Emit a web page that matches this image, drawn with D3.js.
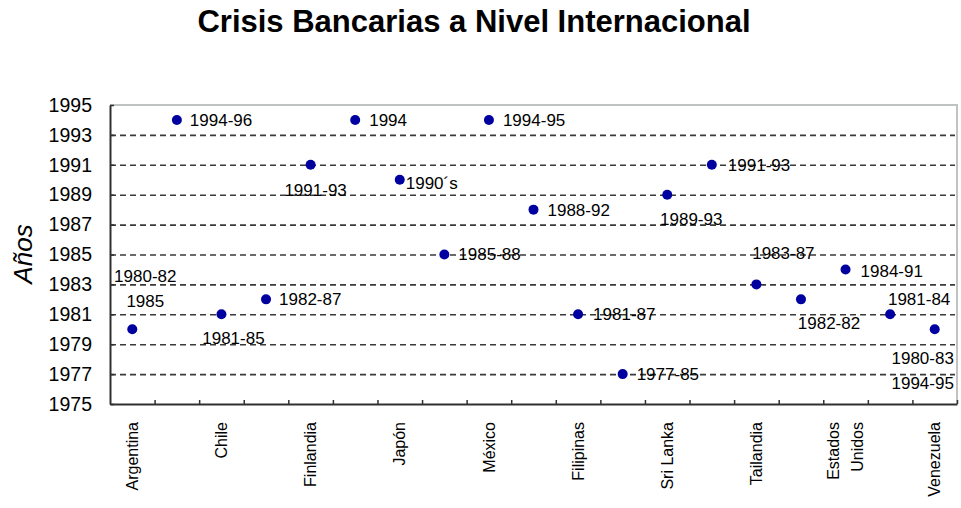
<html>
<head>
<meta charset="utf-8">
<title>Crisis Bancarias</title>
<style>
  body { margin: 0; background: #fff; }
  svg text { font-family: "Liberation Sans", Arial, sans-serif; fill: #000; }
</style>
</head>
<body>
<div id="chart"></div>
<script src="https://cdnjs.cloudflare.com/ajax/libs/d3/7.8.5/d3.min.js"></script>
<script>
// data
var countries = ["Argentina", "", "Chile", "", "Finlandia", "", "Japón", "", "México", "",
                 "Filipinas", "", "Sri Lanka", "", "Tailandia", "", "Estados Unidos", "", "Venezuela"];

var startYear = [1980, 1994, 1981, 1982, 1991, 1994, 1990, 1985, 1994, 1988,
                 1981, 1977, 1989, 1991, 1983, 1982, 1984, 1981, 1980];

var crisisLabels = [["1980-82", "1985"], ["1994-96"], ["1981-85"], ["1982-87"], ["1991-93"],
                    ["1994"], ["1990´s"], ["1985-88"], ["1994-95"], ["1988-92"],
                    ["1981-87"], ["1977-85"], ["1989-93"], ["1991-93"], ["1983-87"],
                    ["1982-82"], ["1984-91"], ["1981-84"], ["1980-83", "1994-95"]];

var yearTicks = d3.range(1975, 1996, 2);
var gridYears = d3.range(1977, 1994, 2);

// label placement (layout only): anchor, dx, dy from the point
var labelPlace = [
  ["middle", 13, -53], ["start", 13, 0], ["middle", 12, 24], ["start", 13, 0], ["middle", 5, 25],
  ["start", 14, 0], ["start", 6, 3], ["start", 14, 0], ["start", 14, 0], ["start", 14, 0],
  ["start", 15, 0], ["start", 14, 0], ["middle", 24, 24], ["start", 16, 0], ["middle", 27, -31],
  ["middle", 28, 24], ["start", 15, 2], ["middle", 29, -15], ["middle", -12, 29]
];

var width = 961, height = 508;
var plotL = 110, plotR = 957, plotT = 105, plotB = 404;

var svg = d3.select("#chart").append("svg")
    .attr("width", width)
    .attr("height", height);

var x = d3.scaleBand()
    .domain(d3.range(countries.length))
    .range([plotL, plotR]);

var xEdge = d3.scaleLinear()
    .domain([0, countries.length])
    .range([plotL, plotR]);

var y = d3.scaleLinear()
    .domain([1975, 1995])
    .range([plotB, plotT]);

// title
svg.append("text")
    .attr("x", 474)
    .attr("y", 32)
    .attr("text-anchor", "middle")
    .style("font-size", "31px")
    .style("font-weight", "bold")
    .text("Crisis Bancarias a Nivel Internacional");

// plot border (top / right, gray)
svg.append("path")
    .attr("d", "M" + plotL + "," + plotT + "H" + plotR + "V" + plotB)
    .attr("fill", "none")
    .attr("stroke", "#c0c4c0")
    .attr("stroke-width", 2);

// dashed gridlines
var grid = svg.append("g")
    .attr("transform", "translate(" + plotL + ",0)")
    .call(d3.axisLeft(y).tickValues(gridYears).tickSize(-(plotR - plotL - 2)).tickFormat(""));
grid.select(".domain").remove();
grid.selectAll("line")
    .attr("stroke", "#3a3a3a")
    .attr("stroke-width", 1.6)
    .attr("stroke-dasharray", "6,4");

// y axis
var yAxis = svg.append("g")
    .attr("transform", "translate(" + plotL + ",0)")
    .call(d3.axisLeft(y).tickValues(yearTicks).tickFormat(d3.format("d"))
          .tickSizeInner(-4).tickSizeOuter(0).tickPadding(18));
yAxis.select(".domain").attr("stroke", "#303030").attr("stroke-width", 2);
yAxis.selectAll("line").attr("stroke", "#303030").attr("stroke-width", 1.5);
yAxis.selectAll("text")
    .style("font-size", "19.5px")
    .style("font-family", "'Liberation Sans', Arial, sans-serif");

// x axis: tick marks at category edges
var xAxis = svg.append("g")
    .attr("transform", "translate(0," + plotB + ")")
    .call(d3.axisBottom(xEdge).tickValues(d3.range(1, countries.length + 1))
          .tickSizeInner(-4).tickSizeOuter(0).tickFormat(""));
xAxis.select(".domain").attr("stroke", "#303030").attr("stroke-width", 2);
xAxis.selectAll("line").attr("stroke", "#303030").attr("stroke-width", 1.5);

// category labels, rotated
var catLabels = svg.append("g").selectAll("text")
    .data(countries)
    .enter().append("text")
    .attr("transform", function(d, i) {
      return "translate(" + (x(i) + x.bandwidth() / 2) + "," + (plotB + 18) + ") rotate(-90)";
    })
    .attr("text-anchor", "end")
    .style("font-size", "16px");

catLabels.each(function(d) {
  var lines = d.length > 10 ? d.split(" ") : [d];
  var sel = d3.select(this);
  lines.forEach(function(t, k) {
    sel.append("tspan")
      .attr("x", 0)
      .attr("dy", k === 0 ? (0.35 * 16 - (lines.length - 1) * 12) + "px" : "24px")
      .text(t);
  });
});

// y axis title
svg.append("text")
    .attr("transform", "translate(32,254) rotate(-90)")
    .attr("text-anchor", "middle")
    .style("font-size", "26px")
    .style("font-style", "italic")
    .text("Años");

// points
svg.append("g").selectAll("circle")
    .data(startYear)
    .enter().append("circle")
    .attr("cx", function(d, i) { return x(i) + x.bandwidth() / 2; })
    .attr("cy", function(d) { return y(d); })
    .attr("r", 5)
    .attr("fill", "#0000a0");

// data labels
var dl = svg.append("g").selectAll("text")
    .data(crisisLabels)
    .enter().append("text")
    .attr("text-anchor", function(d, i) { return labelPlace[i][0]; })
    .style("font-size", "17px");

dl.each(function(d, i) {
  var cx = x(i) + x.bandwidth() / 2 + labelPlace[i][1];
  var cy = y(startYear[i]) + labelPlace[i][2];
  var sel = d3.select(this);
  d.forEach(function(t, k) {
    sel.append("tspan")
      .attr("x", cx)
      .attr("y", cy + k * 25)
      .attr("dy", "0.35em")
      .text(t);
  });
});
</script>
</body>
</html>
